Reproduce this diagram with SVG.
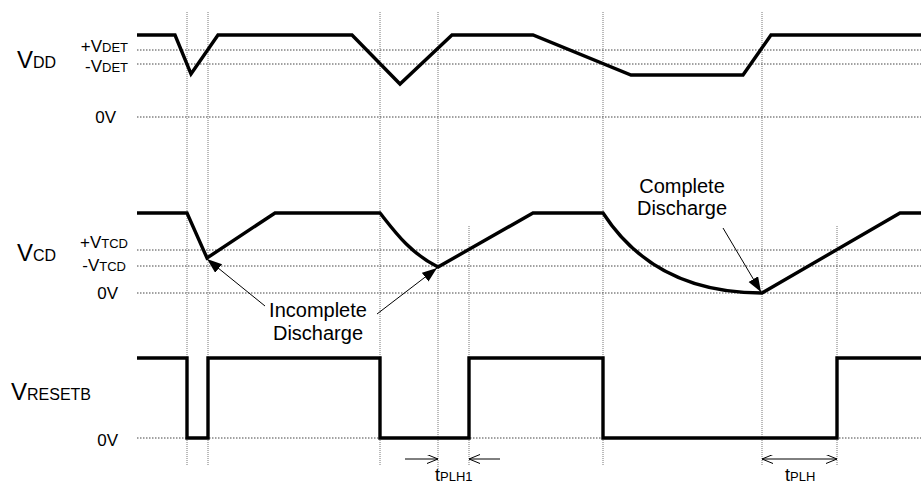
<svg xmlns="http://www.w3.org/2000/svg" width="921" height="484" viewBox="0 0 921 484">
<style>
text{font-family:"Liberation Sans",Arial,sans-serif;fill:#000}
.big{font-size:24px}
.sub{font-size:16px}
.lvl{font-size:17px}
.lsub{font-size:13px}
.note{font-size:20px}
.grid{stroke:#444;stroke-width:1;stroke-dasharray:1.5,1.5;fill:none}
.vgrid{stroke:#777;stroke-width:1;stroke-dasharray:1,1;fill:none}
.wave{stroke:#000;stroke-width:3.4;fill:none;stroke-linejoin:miter}
.call{stroke:#000;stroke-width:1;fill:none}
</style>
<defs>
<marker id="solid" markerUnits="userSpaceOnUse" markerWidth="16" markerHeight="12" refX="15" refY="5.5" orient="auto">
<path d="M0,0 L15,5.5 L0,11 z" fill="#000"/>
</marker>
<marker id="open" markerUnits="userSpaceOnUse" markerWidth="12" markerHeight="10" refX="11" refY="4.5" orient="auto">
<path d="M0,0 L11,4.5 L0,9" fill="none" stroke="#000" stroke-width="1"/>
</marker>
<marker id="openS" markerUnits="userSpaceOnUse" markerWidth="12" markerHeight="10" refX="0" refY="4.5" orient="auto">
<path d="M11,0 L0,4.5 L11,9" fill="none" stroke="#000" stroke-width="1"/>
</marker>
</defs>
<g id="grid">
<path class="vgrid" d="M187,12 V465 M208,12 V465 M380,12 V465 M438,12 V470 M469,226 V465 M603,12 V465 M762,12 V465 M837,226 V465"/>
<path class="grid" d="M137,50 H921 M137,64 H921 M137,117 H921 M137,250 H921 M137,266 H921 M137,293 H921 M137,438 H921"/>
</g>
<g id="vdd">
<text x="17" y="68"><tspan class="big">V</tspan><tspan class="sub">DD</tspan></text>
<text x="128" y="52" text-anchor="end"><tspan class="lvl">+V</tspan><tspan class="lsub">DET</tspan></text>
<text x="128" y="72" text-anchor="end"><tspan class="lvl">-V</tspan><tspan class="lsub">DET</tspan></text>
<text x="116" y="123" text-anchor="end" class="lvl">0V</text>
<path class="wave" d="M137,35 L175,35 L191,74 L218,35 L352,35 L400,84 L452,35 L533,35 L631,75 L743,75 L771,35 L921,35"/>
</g>
<g id="vcd">
<text x="17" y="261"><tspan class="big">V</tspan><tspan class="sub">CD</tspan></text>
<text x="128" y="248" text-anchor="end"><tspan class="lvl">+V</tspan><tspan class="lsub">TCD</tspan></text>
<text x="126" y="271" text-anchor="end"><tspan class="lvl">-V</tspan><tspan class="lsub">TCD</tspan></text>
<text x="118" y="299" text-anchor="end" class="lvl">0V</text>
<path class="wave" d="M137,213 L187,213 L207,258 L275,213 L380,213 C395,232 410,253 438,267 L533,213 L603,213 Q655,293 762,293 L900,213 L921,213"/>
</g>
<g id="vresetb">
<text x="11" y="400"><tspan class="big">V</tspan><tspan class="sub">RESETB</tspan></text>
<text x="118" y="446" text-anchor="end" class="lvl">0V</text>
<path class="wave" d="M137,358 L187,358 L187,438 L208,438 L208,358 L380,358 L380,438 L469,438 L469,358 L603,358 L603,438 L837,438 L837,358 L921,358"/>
</g>
<g id="incomplete">
<text class="note" x="318" y="317" text-anchor="middle">Incomplete</text>
<text class="note" x="318" y="340" text-anchor="middle">Discharge</text>
</g>
<g id="complete">
<text class="note" x="682" y="193" text-anchor="middle">Complete</text>
<text class="note" x="682" y="215" text-anchor="middle">Discharge</text>
</g>
<g id="tplh1">
<text x="435" y="481"><tspan style="font-size:18px">t</tspan><tspan style="font-size:13px">PLH1</tspan></text>
</g>
<g id="tplh">
<text x="785" y="481"><tspan style="font-size:18px">t</tspan><tspan style="font-size:13px">PLH</tspan></text>
</g>
<g id="connectors">
<line class="call" x1="265" y1="306" x2="207" y2="259" marker-end="url(#solid)"/>
<line class="call" x1="377" y1="314" x2="437" y2="268" marker-end="url(#solid)"/>
<line class="call" x1="723" y1="228" x2="761" y2="292" marker-end="url(#solid)"/>
<line class="call" x1="405" y1="459" x2="438" y2="459" marker-end="url(#open)"/>
<line class="call" x1="500" y1="459" x2="469" y2="459" marker-end="url(#open)"/>
<line class="call" x1="762" y1="459" x2="837" y2="459" marker-start="url(#openS)" marker-end="url(#open)"/>
</g>
</svg>
